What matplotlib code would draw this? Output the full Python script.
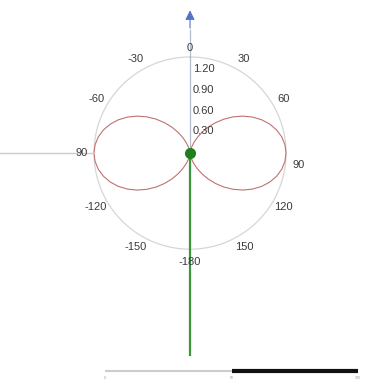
import numpy as np
import matplotlib
matplotlib.use("Agg")
import matplotlib.pyplot as plt

plt.rcParams['font.family'] = ['Liberation Sans', 'DejaVu Sans']

# pattern, every 5 deg from 0 (top) to 90 (side)
half_angles = [0, 5, 10, 15, 20, 25, 30, 35, 40, 45, 50, 55, 60, 65, 70, 75, 80, 85, 90]
half_gain = [0.0, 0.011, 0.042, 0.094, 0.164, 0.250, 0.350, 0.461, 0.578, 0.700,
             0.821, 0.939, 1.050, 1.150, 1.236, 1.306, 1.358, 1.389, 1.40]

outer_radius = 1.4
radial_ticks = [0.30, 0.60, 0.90, 1.20]
angle_ticks = [0, 30, 60, 90, 120, 150, 180, -150, -120, -90, -60, -30]
angle_labels = ["0", "30", "60", "90", "120", "150", "-180", "-150", "-120", "90", "-60", "-30"]

# slider under the chart
slider_min, slider_val, slider_max = 0, 50, 100

# full pattern: mirror the quarter to 0..180, then the other side
ang_q = np.array(half_angles, dtype=float)
gain_q = np.array(half_gain)
ang = np.concatenate([ang_q, 180 - ang_q[::-1][1:]])
gain = np.concatenate([gain_q, gain_q[::-1][1:]])
ang_full = np.concatenate([ang, -ang[::-1][1:]])
gain_full = np.concatenate([gain, gain[::-1][1:]])

fig = plt.figure(figsize=(3.67, 3.81), dpi=100)
ax = fig.add_axes([0, 0, 1, 1])
ax.set_xlim(-2.77, 2.58)
ax.set_ylim(-3.32, 2.23)
ax.axis('off')

# outer ring
t = np.radians(np.linspace(0, 360, 361))
ax.plot(outer_radius * np.sin(t), outer_radius * np.cos(t), color='#d6d6d6', lw=0.9)

# lobes
th = np.radians(ang_full)
ax.plot(gain_full * np.sin(th), gain_full * np.cos(th), color='#c07272', lw=0.8)

# horizontal reference on the left
ax.plot([-2.77, -outer_radius], [0, 0], color='#cccccc', lw=1.0)

# pointer up with blue head
ax.plot([0, 0], [0, 1.8], color='#b4bccc', lw=0.9)
ax.annotate('', xy=(0, 2.12), xytext=(0, 1.78),
            arrowprops=dict(arrowstyle='-|>', color='#5573c4', lw=0.8,
                            mutation_scale=14))

# green line downwards and centre dot
ax.plot([0, 0], [0, -2.94], color='#3c973c', lw=1.6, zorder=3)
ax.plot([0], [0], 'o', color='#1f7f1f', ms=7, zorder=4)

# angle labels
for a, lab in zip(angle_ticks, angle_labels):
    r = 1.58
    ar = np.radians(a)
    x, y = r * np.sin(ar), r * np.cos(ar)
    if a == 90:
        y -= 0.17
    if a == 0:
        y = 1.53
    ax.text(x, y, lab, fontsize=8, color='#3a3a3a', ha='center', va='center')

# radial labels
for rv in radial_ticks:
    ax.text(0.20, rv + 0.02, f"{rv:.2f}", fontsize=8, color='#3a3a3a',
            ha='center', va='center')

# slider
x_lo = -1.24
x_hi = 2.45
x_mid = x_lo + (x_hi - x_lo) * (slider_val - slider_min) / (slider_max - slider_min)
ax.plot([x_lo, x_mid], [-3.18, -3.18], color='#cccccc', lw=1.5, solid_capstyle='butt')
ax.plot([x_mid, x_hi], [-3.18, -3.18], color='#111111', lw=3.0, solid_capstyle='butt')
for v, xv in zip([slider_min, slider_val, slider_max], [x_lo, x_mid, x_hi]):
    ax.text(xv, -3.28, str(v), fontsize=2.5, color='#999999', ha='center', va='center')

fig.savefig('out.png', dpi=100)
